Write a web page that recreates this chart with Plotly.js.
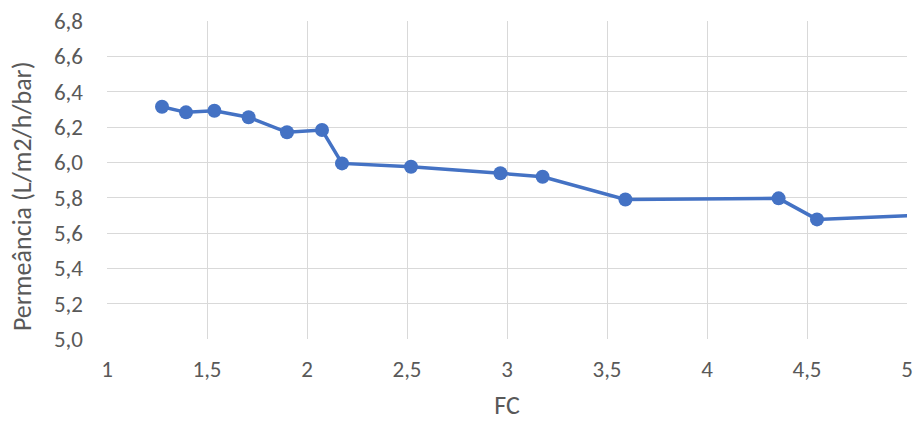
<!DOCTYPE html>
<html>
<head>
<meta charset="utf-8">
<script src="https://cdn.plot.ly/plotly-3.0.1.min.js"></script>
<style>
  html, body { margin: 0; padding: 0; background: #fff; }
  #chart { width: 914px; height: 421px; }
</style>
</head>
<body>
<div id="chart"></div>
<script>
// Fator de concentração (FC) e permeância medida
const fc = [1.275, 1.395, 1.537, 1.708, 1.90, 2.075, 2.175, 2.52, 2.967, 3.178, 3.592, 4.358, 4.55, 5.4];
const permeancia = [6.315, 6.283, 6.292, 6.255, 6.170, 6.183, 5.994, 5.975, 5.938, 5.918, 5.790, 5.796, 5.677, 5.715];

const xTicks = [1, 1.5, 2, 2.5, 3, 3.5, 4, 4.5, 5];
const yTicks = [5.0, 5.2, 5.4, 5.6, 5.8, 6.0, 6.2, 6.4, 6.6, 6.8];

const xTitle = 'FC';
const yTitle = 'Permeância (L/m2/h/bar)';

const fontFamily = 'Calibri, Carlito, "Open Sans", "Noto Sans", sans-serif';
const gray = '#595959';

const trace = {
  x: fc,
  y: permeancia,
  type: 'scatter',
  mode: 'lines+markers',
  line: { color: '#4472C4', width: 3.5 },
  marker: { color: '#4472C4', size: 14 },
  cliponaxis: true,
  hoverinfo: 'x+y'
};

const layout = {
  width: 914,
  height: 421,
  margin: { l: 107, r: 7, t: 21, b: 82 },
  paper_bgcolor: '#ffffff',
  plot_bgcolor: '#ffffff',
  separators: ',.',
  showlegend: false,
  font: { family: fontFamily, color: gray, size: 23 },
  xaxis: {
    range: [1, 5],
    tickvals: xTicks,
    ticktext: xTicks.map(v => String(v).replace('.', ',')),
    showgrid: true,
    gridcolor: '#d9d9d9',
    gridwidth: 1,
    zeroline: false,
    showline: false,
    ticks: '',
    ticklabelstandoff: 14,
    tickfont: { family: fontFamily, color: gray, size: 23 },
    title: { text: xTitle, font: { family: fontFamily, color: gray, size: 26 }, standoff: 15 }
  },
  yaxis: {
    range: [5.0, 6.8],
    tickvals: yTicks,
    ticktext: yTicks.map(v => v.toFixed(1).replace('.', ',')),
    showgrid: true,
    gridcolor: '#d9d9d9',
    gridwidth: 1,
    zeroline: false,
    showline: false,
    ticks: '',
    ticklabelstandoff: 23,
    tickfont: { family: fontFamily, color: gray, size: 23 }
  },
  // vertical axis title, placed slightly below the plot's mid-height
  annotations: [{
    text: yTitle,
    xref: 'paper', yref: 'paper',
    x: -0.106, y: 0.45,
    xanchor: 'center', yanchor: 'middle',
    textangle: -90,
    showarrow: false,
    font: { family: fontFamily, color: gray, size: 26 }
  }]
};

Plotly.newPlot('chart', [trace], layout, { displayModeBar: false, staticPlot: true });
</script>
</body>
</html>
